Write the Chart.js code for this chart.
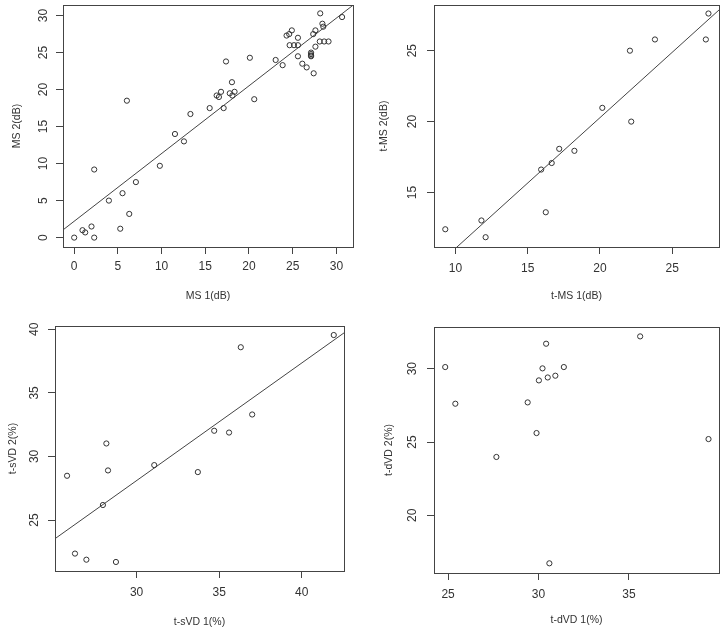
<!DOCTYPE html>
<html>
<head>
<meta charset="utf-8">
<script src="https://cdn.jsdelivr.net/npm/chart.js@4"></script>
<style>
  body { margin: 0; background: #fff; }
  #wrap { position: relative; width: 724px; height: 628px; }
  canvas { position: absolute; }
</style>
</head>
<body>
<div id="wrap">
  <canvas id="chart1" width="362" height="314" style="left:0;top:0"></canvas>
  <canvas id="chart2" width="362" height="314" style="left:362px;top:0"></canvas>
  <canvas id="chart3" width="362" height="314" style="left:0;top:314px"></canvas>
  <canvas id="chart4" width="362" height="314" style="left:362px;top:314px"></canvas>
</div>
<script>
// MS 1 vs MS 2
const ms1 = [0, 0.95, 1.26, 1.98, 2.29, 2.29, 3.97, 5.27, 5.53, 6.03, 6.3, 7.06, 9.8, 11.53, 12.56, 13.3,
  15.5, 16.3, 16.56, 16.8, 17.1, 17.37, 17.8, 18.05, 18.1, 18.35, 20.1, 20.6, 23.05, 23.85, 24.3, 24.6,
  24.9, 24.65, 25.15, 25.6, 25.6, 25.6, 26.1, 26.6, 27.1, 27.1, 27.1, 27.1, 27.4, 27.35, 27.6, 27.6,
  28.15, 28.1, 28.4, 28.5, 28.6, 29.1, 30.65];
const ms2 = [0, 1.0, 0.7, 1.5, 9.2, 0, 5.0, 1.2, 6.0, 18.5, 3.2, 7.5, 9.7, 14.0, 13.0, 16.7,
  17.5, 19.2, 19.0, 19.7, 17.5, 23.8, 19.5, 21.0, 19.2, 19.7, 24.3, 18.7, 24.0, 23.3, 27.3, 27.5,
  28.0, 26.0, 26.0, 27.0, 26.0, 24.5, 23.5, 23.0, 25.0, 24.8, 24.6, 24.5, 22.2, 27.5, 28.0, 25.8,
  30.3, 26.5, 28.9, 28.5, 26.5, 26.5, 29.8];
const ms1Ticks = [0, 5, 10, 15, 20, 25, 30];
const ms2Ticks = [0, 5, 10, 15, 20, 25, 30];
const msFit = [2.21, 0.915];

// t-MS
const tms1 = [9.3, 11.8, 12.09, 15.93, 16.25, 16.66, 17.18, 18.23, 20.16, 22.07, 22.16, 23.8, 27.32, 27.5];
const tms2 = [12.41, 13.03, 11.85, 16.62, 13.61, 17.08, 18.08, 17.94, 20.97, 25.0, 20.0, 25.79, 25.79, 27.62];
const tms1Ticks = [10, 15, 20, 25];
const tms2Ticks = [15, 20, 25];
const tmsFit = [1.84, 0.922];

// t-sVD
const tsvd1 = [25.79, 26.27, 26.96, 27.96, 28.17, 28.27, 28.75, 31.07, 33.71, 34.7, 35.6, 36.31, 37.0, 41.94];
const tsvd2 = [28.48, 22.36, 21.88, 26.18, 31.02, 28.9, 21.7, 29.32, 28.77, 32.02, 31.88, 38.59, 33.3, 39.55];
const tsvd1Ticks = [30, 35, 40];
const tsvd2Ticks = [25, 30, 35, 40];
const tsvdFit = [0.35, 0.925];

// t-dVD (no fit line)
const tdvd1 = [24.84, 25.4, 27.67, 29.4, 29.89, 30.02, 30.22, 30.42, 30.51, 30.6, 30.93, 31.4, 35.62, 39.4];
const tdvd2 = [30.11, 27.61, 23.98, 27.7, 25.61, 29.2, 30.02, 31.7, 29.4, 16.73, 29.52, 30.11, 32.2, 25.2];
const tdvd1Ticks = [25, 30, 35];
const tdvd2Ticks = [20, 25, 30];

const FONT = "'Liberation Sans', Arial, sans-serif";
const INK = "#333";

const boxPlugin = {
  id: "box",
  afterDraw(chart) {
    let a = chart.chartArea;
    let ctx = chart.ctx;
    ctx.save();
    ctx.strokeStyle = "#444";
    ctx.lineWidth = 1;
    ctx.strokeRect(a.left + 0.5, a.top + 0.5, a.right - a.left, a.bottom - a.top);
    ctx.restore();
  },
};

function toPoints(xs, ys) {
  return xs.map((x, i) => ({ x: x, y: ys[i] }));
}

function fitLine(fit, xmin, xmax) {
  return [xmin, xmax].map((x) => ({ x: x, y: fit[0] + fit[1] * x }));
}

function drawPanel(id, p) {
  let datasets = [
    {
      data: toPoints(p.xs, p.ys),
      pointRadius: 2.6,
      borderWidth: 1,
      borderColor: INK,
      backgroundColor: "rgba(0,0,0,0)",
    },
  ];
  if (p.fit) {
    datasets.push({
      data: fitLine(p.fit, p.xRange[0], p.xRange[1]),
      showLine: true,
      pointRadius: 0,
      borderWidth: 1,
      borderColor: "#444",
      clip: 0,
    });
  }

  const ctx = document.getElementById(id);
  new Chart(ctx, {
    type: "scatter",
    data: { datasets: datasets },
    options: {
      responsive: false,
      animation: false,
      events: [],
      layout: { padding: { left: 0, top: p.area[1], right: 362 - p.area[2], bottom: 0 } },
      plugins: { legend: { display: false }, tooltip: { enabled: false } },
      scales: {
        x: {
          type: "linear",
          min: p.xRange[0],
          max: p.xRange[1],
          afterBuildTicks: (s) => { s.ticks = p.xTicks.map((v) => ({ value: v })); },
          afterFit: (s) => {
            s.height = 314 - p.area[3];
            s.paddingLeft = 0;
            s.paddingRight = 0;
          },
          grid: { drawOnChartArea: false, tickLength: 7, color: "#444" },
          border: { display: false },
          ticks: { autoSkip: false, maxRotation: 0, padding: p.xLabPad, color: INK, font: { family: FONT, size: 12 }, callback: (v) => String(v) },
          title: { display: true, text: p.xTitle, color: INK, font: { family: FONT, size: 10.5, lineHeight: 1 }, padding: { top: 0, bottom: p.xTitlePad } },
        },
        y: {
          type: "linear",
          min: p.yRange[0],
          max: p.yRange[1],
          afterBuildTicks: (s) => { s.ticks = p.yTicks.map((v) => ({ value: v })); },
          afterFit: (s) => {
            s.width = p.area[0];
            s.paddingTop = 0;
            s.paddingBottom = 0;
          },
          grid: { drawOnChartArea: false, tickLength: 7, color: "#444" },
          border: { display: false },
          ticks: { autoSkip: false, minRotation: 90, maxRotation: 90, crossAlign: "center", padding: p.yLabPad, color: INK, font: { family: FONT, size: 12 }, callback: (v) => String(v) },
          title: { display: true, text: p.yTitle, color: INK, font: { family: FONT, size: 10.5, lineHeight: 1 }, padding: { top: p.yTitlePad, bottom: 0 } },
        },
      },
    },
    plugins: [boxPlugin],
  });
}

drawPanel("chart1", {
  xs: ms1, ys: ms2, fit: msFit, xTicks: ms1Ticks, yTicks: ms2Ticks,
  xRange: [-1.28, 31.9], yRange: [-1.27, 31.43],
  area: [63, 2, 353, 247], xLabPad: 5, xTitlePad: 12.5, yLabPad: 6, yTitlePad: 11.5,
  xTitle: "MS 1(dB)", yTitle: "MS 2(dB)",
});
drawPanel("chart2", {
  xs: tms1, ys: tms2, fit: tmsFit, xTicks: tms1Ticks, yTicks: tms2Ticks,
  xRange: [8.52, 28.23], yRange: [11.16, 28.22],
  area: [72, 2, 360, 247], xLabPad: 7, xTitlePad: 12.5, yLabPad: 8, yTitlePad: 16.5,
  xTitle: "t-MS 1(dB)", yTitle: "t-MS 2(dB)",
});
drawPanel("chart3", {
  xs: tsvd1, ys: tsvd2, fit: tsvdFit, xTicks: tsvd1Ticks, yTicks: tsvd2Ticks,
  xRange: [25.06, 42.56], yRange: [20.99, 40.26],
  area: [55, 12, 344, 257], xLabPad: 7, xTitlePad: 0.2, yLabPad: 7, yTitlePad: 7.5,
  xTitle: "t-sVD 1(%)", yTitle: "t-sVD 2(%)",
});
drawPanel("chart4", {
  xs: tdvd1, ys: tdvd2, fit: null, xTicks: tdvd1Ticks, yTicks: tdvd2Ticks,
  xRange: [24.22, 39.98], yRange: [16.07, 32.84],
  area: [72, 13, 360, 259], xLabPad: 7, xTitlePad: 2.5, yLabPad: 8, yTitlePad: 21.5,
  xTitle: "t-dVD 1(%)", yTitle: "t-dVD 2(%)",
});
</script>
</body>
</html>
